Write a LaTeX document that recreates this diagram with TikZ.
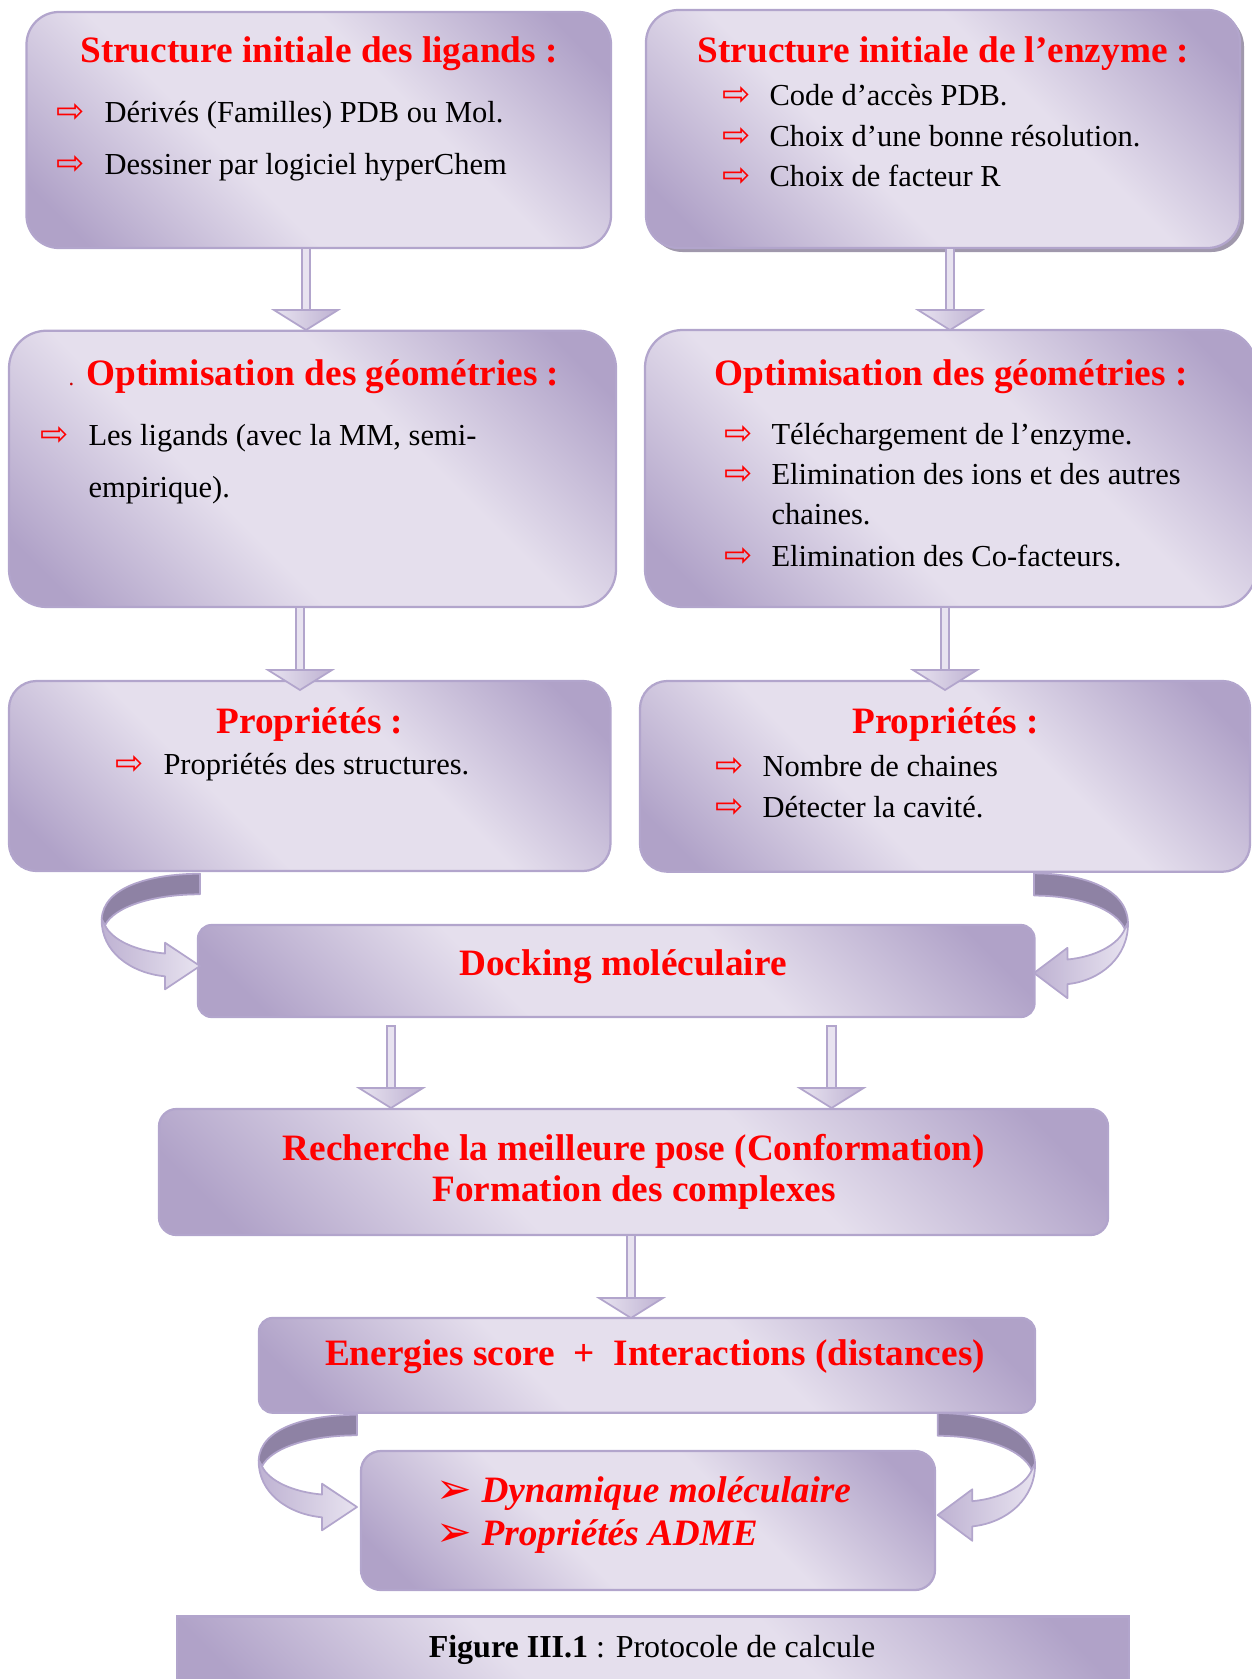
\documentclass[tikz,border=0pt]{standalone}
\usepackage{fontspec}
\setmainfont{Liberation Serif}
\newfontfamily\dejavu{DejaVu Sans}
\usetikzlibrary{calc}
\definecolor{bxdark}{RGB}{176,162,200}
\definecolor{bxlight}{RGB}{229,223,237}
\definecolor{bxedge}{RGB}{178,165,204}
\definecolor{ribdark}{RGB}{142,130,164}
\definecolor{ribmid}{RGB}{190,178,210}
\definecolor{riblight}{RGB}{232,227,240}
\definecolor{shadowc}{RGB}{160,152,172}
\pgfdeclarehorizontalshading{boxshade}{100bp}{color(0bp)=(bxdark); color(20bp)=(bxdark); color(40bp)=(bxlight); color(60bp)=(bxlight); color(80bp)=(bxdark); color(100bp)=(bxdark)}
\newcommand\varrow[2]{%
  \draw[arredge, fill=riblight] let \p1=(#1), \p2=(#2) in (\x2-1.7pt,\y1) rectangle (\x2+1.7pt,\y2+8pt);
  \draw[arredge, left color=riblight, right color=ribmid] let \p2=(#2) in (\x2-12.8pt,\y2+8pt) -- (\x2+12.8pt,\y2+8pt) -- (\x2,\y2) -- cycle;
}
\newcommand\ribbonarrow[1]{%
  \begin{scope}[#1]
    \draw[ribedge, fill=ribdark] (0,-92.3) .. controls (-50,-92) and (-97,-79) .. (-98.3,-46.7) -- (-95,-40.7) .. controls (-86,-59) and (-48,-71.7) .. (0,-71.7) -- cycle;
    \draw[ribedge, left color=ribmid, right color=riblight] (-98.3,-46.7) .. controls (-99,-15) and (-70,7) .. (-35,10.3) -- (-35,23.3) -- (0,0) -- (-35,-23.3) -- (-35,-12.5) .. controls (-64,-15) and (-88,-26) .. (-95,-40.7) -- cycle;
  \end{scope}}
\begin{document}
\begin{tikzpicture}[x=0.4pt, y=-0.4pt,
  box/.style={draw=bxedge, line width=0.9pt, shade, shading=boxshade, shading angle=45, inner sep=0pt},
  shadowbox/.style={fill=shadowc, inner sep=0pt},
  arredge/.style={draw=bxedge, line width=0.7pt, line join=miter},
  ribedge/.style={draw=bxedge, line width=0.7pt, line join=round},
  title/.style={font=\fontsize{14.9}{17}\selectfont\bfseries, text=red, inner sep=0pt, anchor=base},
  body/.style={font=\fontsize{12.2}{14}\selectfont, inner sep=0pt, anchor=base west},
  bul/.style={font=\dejavu\fontsize{13.5}{14}\selectfont, text=red, inner sep=0pt, anchor=base west},
  ibul/.style={font=\dejavu\fontsize{17}{17}\selectfont, text=red, inner sep=0pt, anchor=base west},
  ititle/.style={font=\fontsize{14.9}{17}\selectfont\bfseries\itshape, text=red, inner sep=0pt, anchor=base west}
]
\useasboundingbox (0,0) rectangle (1252,1679);

% ---- boxes
\node[shadowbox, minimum width=237.6pt, minimum height=95.2pt, rounded corners=13pt] (enz1sh) at (947,133) {};
\node[box, minimum width=233.8pt, minimum height=94.4pt, rounded corners=13pt] (lig1) at (318.75,130) {};
\node[box, minimum width=237.6pt, minimum height=95.2pt, rounded corners=13pt] (enz1) at (943,129) {};
\node[box, minimum width=242.8pt, minimum height=110.5pt, rounded corners=15pt] (lig2) at (312.5,468.85) {};
\node[box, minimum width=244.4pt, minimum height=110.8pt, rounded corners=15pt] (enz2) at (950.5,468.5) {};
\node[box, minimum width=240.6pt, minimum height=76pt, rounded corners=11pt] (lig3) at (309.75,776) {};
\node[box, minimum width=244pt, minimum height=76.3pt, rounded corners=11pt] (enz3) at (945,776.35) {};
\node[box, minimum width=334.6pt, minimum height=36.8pt, rounded corners=5.5pt] (dock) at (616.25,971) {};
\node[box, minimum width=379.6pt, minimum height=50.4pt, rounded corners=7pt] (rech) at (633.5,1172) {};
\node[box, minimum width=310.4pt, minimum height=37.9pt, rounded corners=5.5pt] (ener) at (647,1365.35) {};
\node[box, minimum width=229.6pt, minimum height=55.6pt, rounded corners=8pt] (dyn) at (648,1520.5) {};
\node[box, minimum width=380.8pt, minimum height=33.2pt] (cap) at (653,1658) {};

% ---- straight arrows
\coordinate (a1s) at (306,248);   \coordinate (a1e) at (306,330);
\coordinate (a2s) at (950,248);   \coordinate (a2e) at (950,330);
\coordinate (a3s) at (300,607);   \coordinate (a3e) at (300,690);
\coordinate (a4s) at (945,607);   \coordinate (a4e) at (945,690);
\coordinate (a5s) at (391,1026);  \coordinate (a5e) at (391,1108);
\coordinate (a6s) at (831.6,1026);\coordinate (a6e) at (831.6,1108);
\coordinate (a7s) at (631,1235);  \coordinate (a7e) at (631,1318);
\varrow{a1s}{a1e}
\varrow{a2s}{a2e}
\varrow{a3s}{a3e}
\varrow{a4s}{a4e}
\varrow{a5s}{a5e}
\varrow{a6s}{a6e}
\varrow{a7s}{a7e}

% ---- curved arrows
\coordinate (rl1) at (200,966);
\coordinate (rr1) at (1034,973);
\coordinate (rl2) at (357,1507);
\coordinate (rr2) at (937.7,1515);
\ribbonarrow{shift={(rl1)}}
\ribbonarrow{shift={(rr1)}, xscale=-0.956, yscale=1.08}
\ribbonarrow{shift={(rl2)}}
\ribbonarrow{shift={(rr2)}, xscale=-0.99, yscale=1.105}

% ---- texts box 1
\node[title] (t1) at (319,63) {Structure initiale des ligands :};
\node[bul] (b1a) at (56,122) {⇨};
\node[body] (t1a) at (104,122) {Dérivés (Familles) PDB ou Mol.};
\node[bul] (b1b) at (56,175) {⇨};
\node[body] (t1b) at (104,175) {Dessiner par logiciel hyperChem};

% ---- texts box 2
\node[title] (t2) at (943.5,63) {Structure initiale de l’enzyme :};
\node[bul] (b2a) at (722,106) {⇨};
\node[body] (t2a) at (769,106) {Code d’accès PDB.};
\node[bul] (b2b) at (722,147) {⇨};
\node[body] (t2b) at (769,147) {Choix d’une bonne résolution.};
\node[bul] (b2c) at (722,187) {⇨};
\node[body] (t2c) at (769,187) {Choix de facteur R};

% ---- texts box 3
\node[font=\fontsize{9}{9}\selectfont, text=red!80!black, inner sep=0pt, anchor=base west] (t3dot) at (68,385) {.};
\node[title, anchor=base west] (t3) at (86,385) {Optimisation des géométries :};
\node[bul] (b3a) at (40,445) {⇨};
\node[body] (t3a) at (88,445) {Les ligands (avec la MM, semi-};
\node[body] (t3b) at (88,497) {empirique).};

% ---- texts box 4
\node[title] (t4) at (951,385) {Optimisation des géométries :};
\node[bul] (b4a) at (724,444) {⇨};
\node[body] (t4a) at (771,444) {Téléchargement de l’enzyme.};
\node[bul] (b4b) at (724,484) {⇨};
\node[body] (t4b) at (771,484) {Elimination des ions et des autres};
\node[body] (t4c) at (771,524) {chaines.};
\node[bul] (b4d) at (724,566) {⇨};
\node[body] (t4d) at (771,566) {Elimination des Co-facteurs.};

% ---- texts box 5
\node[title] (t5) at (310,733) {Propriétés :};
\node[bul] (b5a) at (115,774) {⇨};
\node[body] (t5a) at (163,774) {Propriétés des structures.};

% ---- texts box 6
\node[title] (t6) at (945.5,733) {Propriétés :};
\node[bul] (b6a) at (715,776) {⇨};
\node[body] (t6a) at (762,776) {Nombre de chaines};
\node[bul] (b6b) at (715,817) {⇨};
\node[body] (t6b) at (762,817) {Détecter la cavité.};

% ---- lower boxes
\node[title] (tdock) at (623,975) {Docking moléculaire};
\node[title] (trech1) at (634,1160) {Recherche la meilleure pose (Conformation)};
\node[title] (trech2) at (634,1201.7) {Formation des complexes};
\node[title] (tener) at (655,1365) {Energies score\ \ +\ \ Interactions (distances)};
\node[ibul] (bdyn1) at (436,1503) {➢};
\node[ititle] (tdyn1) at (481,1502) {Dynamique moléculaire};
\node[ibul] (bdyn2) at (436,1546) {➢};
\node[ititle] (tdyn2) at (481,1545) {Propriétés ADME};
\node[font=\fontsize{12.8}{15}\selectfont, inner sep=0pt, anchor=base] (tcap) at (652,1657) {\textbf{Figure III.1} : Protocole de calcule};
\end{tikzpicture}
\end{document}
